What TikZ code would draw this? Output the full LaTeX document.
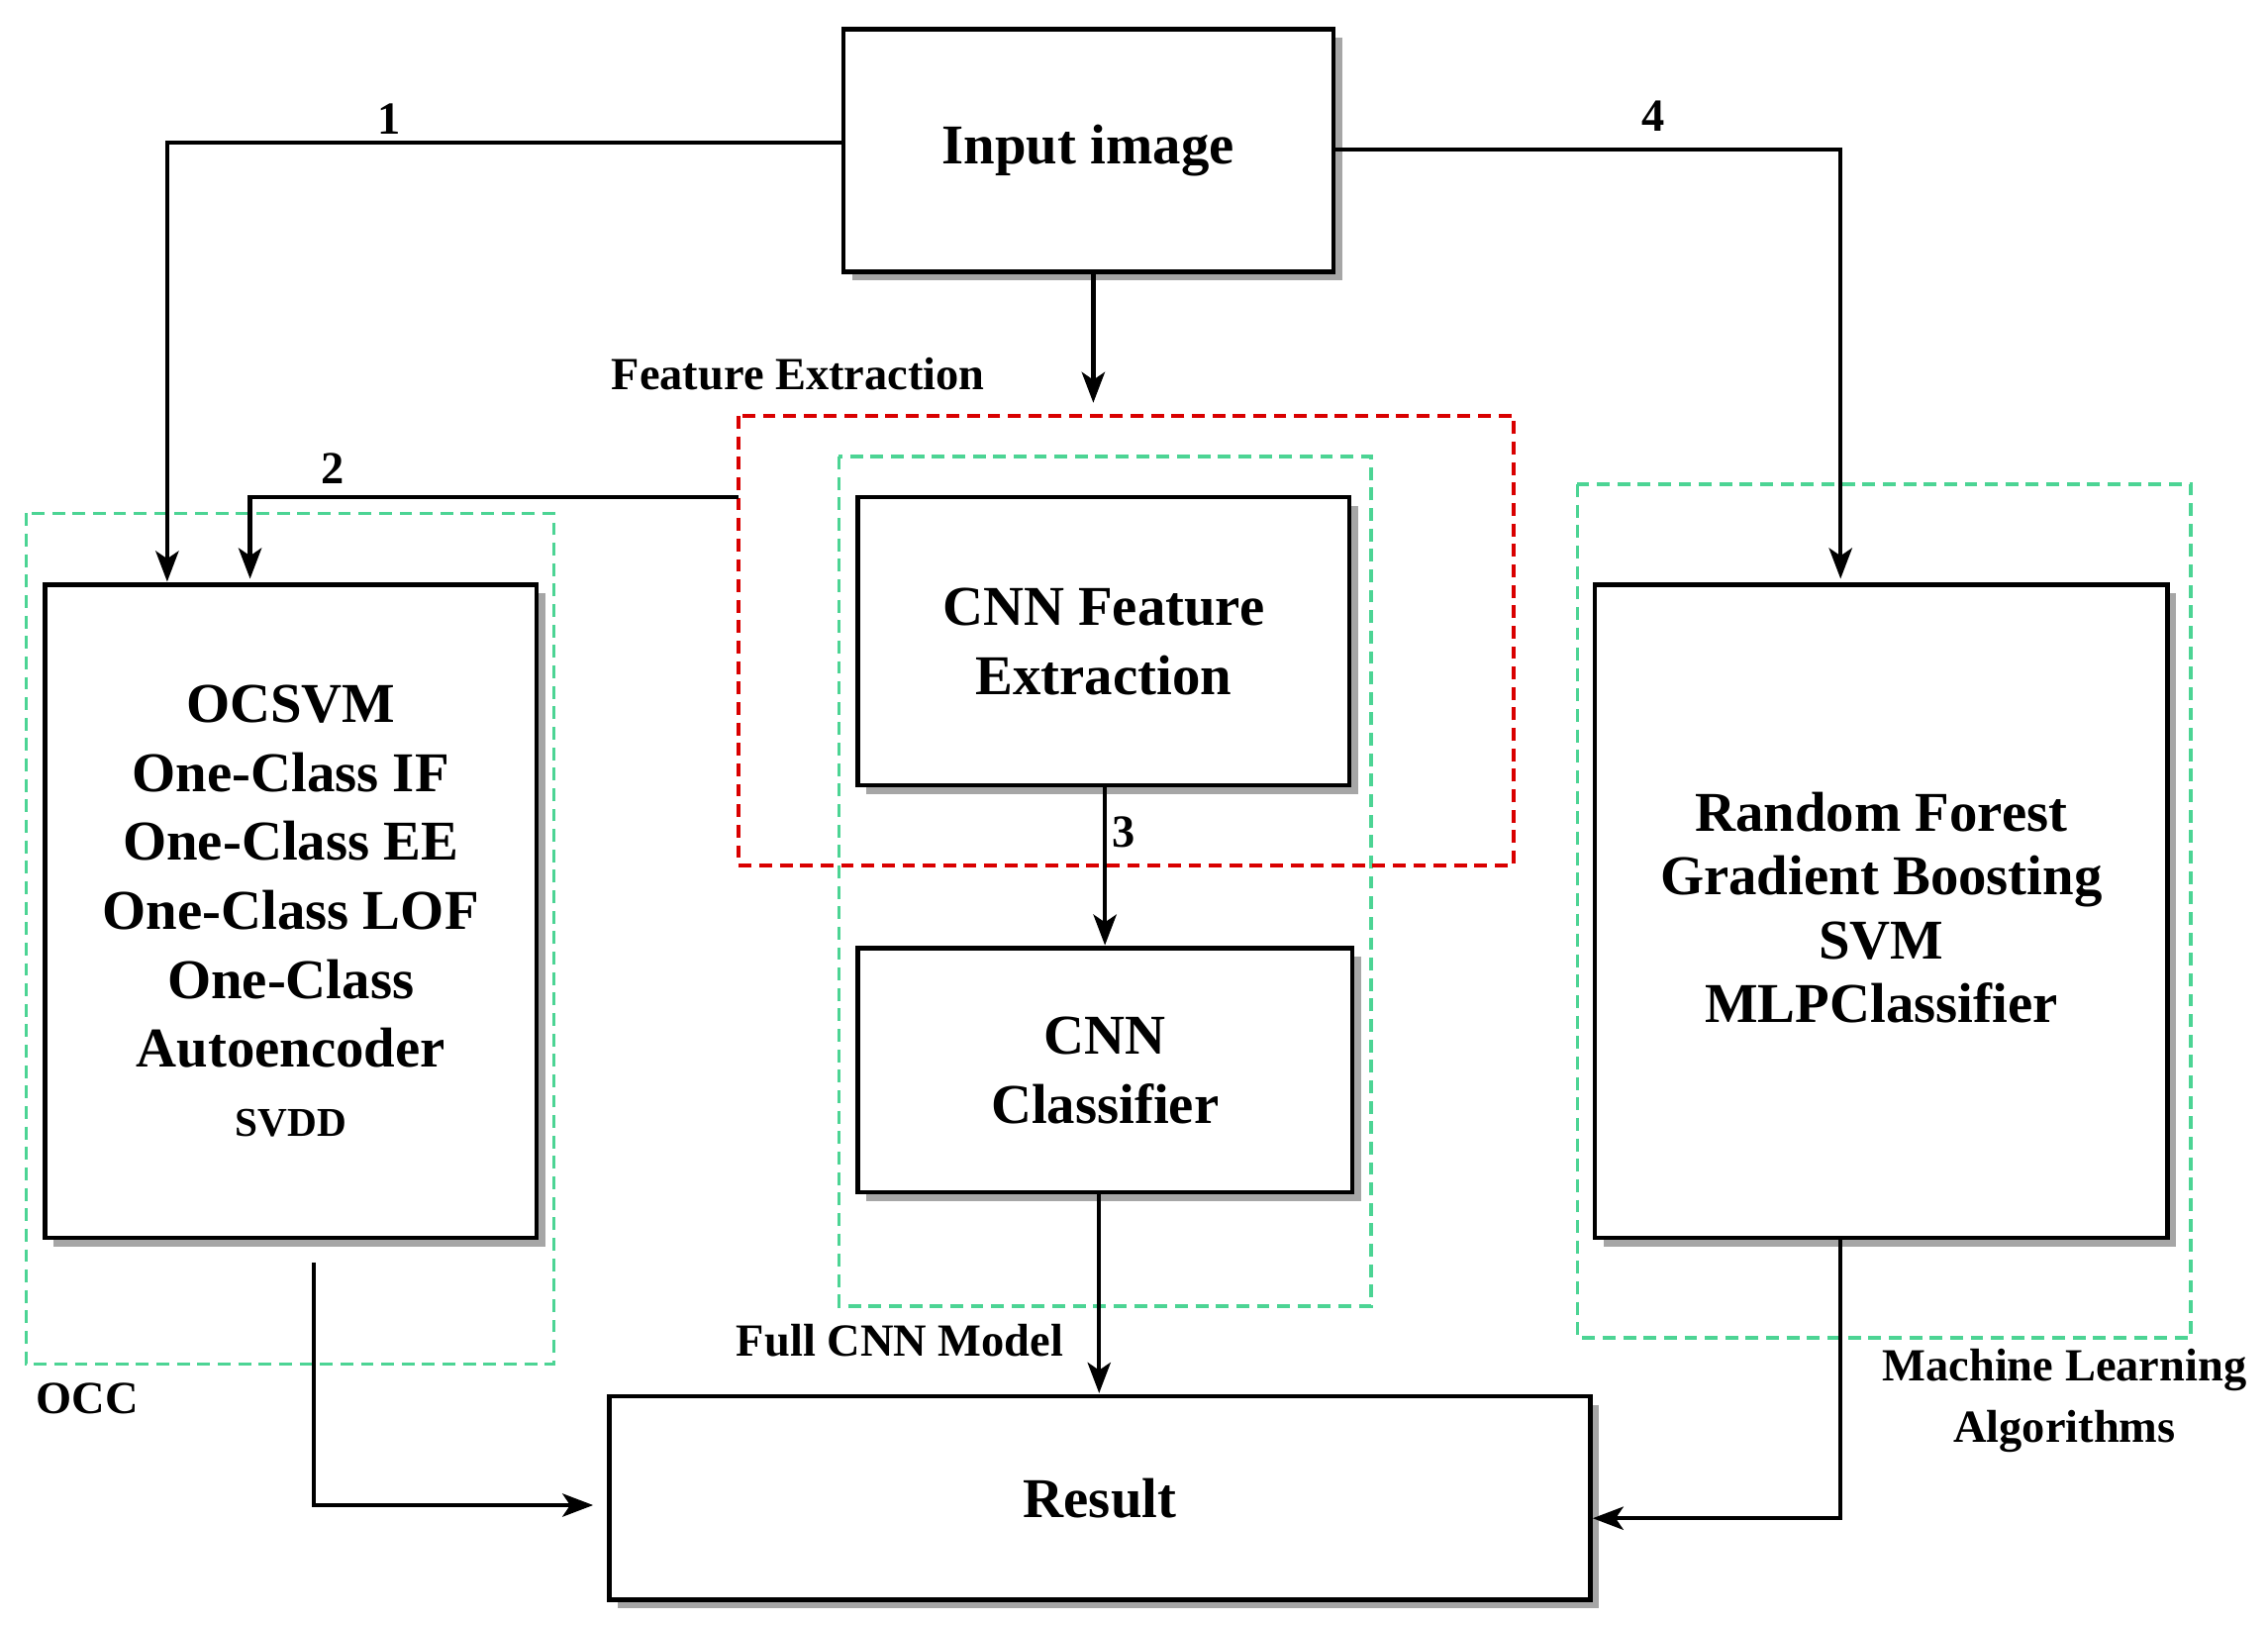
\documentclass[tikz,border=0pt]{standalone}
\usepackage{fontspec}
\setmainfont{Liberation Serif}
\usetikzlibrary{shadows,arrows.meta}
\begin{document}
\begin{tikzpicture}[x=0.02cm,y=-0.02cm,
  box/.style={draw,line width=1.7pt,fill=white,align=center,font=\bfseries\fontsize{22}{27}\selectfont,
    drop shadow={opacity=1,fill=gray!70,shadow xshift=0.12cm,shadow yshift=-0.12cm}},
  arr/.style={line width=1.7pt,-{Stealth[length=12pt,width=9pt,inset=3pt]}},
  grn/.style={draw=green!60!black!60!cyan!70,line width=1.4pt,dash pattern=on 5pt off 3pt},
  red/.style={draw=red!85!black,line width=1.4pt,dash pattern=on 5pt off 3pt},
  lab/.style={font=\bfseries\fontsize{18}{21}\selectfont,align=center}]
\useasboundingbox (0,0) rectangle (1560,1117);
% dashed groups
\draw[grn] (18,353) rectangle (381,938);
\draw[grn] (577,314) rectangle (943,898);
\draw[grn] (1085,333) rectangle (1507,920);
\draw[red] (508,286) rectangle (1041,595);
% boxes
\node[box,minimum width=337*0.02cm,minimum height=167*0.02cm] (in) at (748.5,103.5) {Input image};
\node[box,minimum width=338*0.02cm,minimum height=449*0.02cm] (occ) at (200,626.5) {OCSVM\\One-Class IF\\One-Class EE\\One-Class LOF\\One-Class\\Autoencoder\\{\fontsize{16}{22}\selectfont SVDD}};
\node[box,minimum width=338*0.02cm,minimum height=198*0.02cm] (fe) at (759,441) {CNN Feature\\Extraction};
\node[box,minimum width=340*0.02cm,minimum height=168*0.02cm] (cl) at (760,736) {CNN\\Classifier};
\node[box,minimum width=394*0.02cm,minimum height=449*0.02cm] (rf) at (1294,626.5) {};
\node[align=center,font=\bfseries\fontsize{22}{25}\selectfont] at (1294,624) {Random Forest\\Gradient Boosting\\SVM\\MLPClassifier};
\node[box,minimum width=675*0.02cm,minimum height=140*0.02cm] (res) at (756.5,1030) {Result};
% connectors
\coordinate (a1) at (115,98);
\draw[arr] (in.west|-a1) -- (a1) -- (115,400);
\node[lab,fill=white,inner sep=1pt] at (268,82) {1};
\coordinate (a2) at (508,342);
\draw[arr] (a2) -- (172,342) -- (172,398);
\node[lab] at (229,322) {2};
\coordinate (a4) at (1266,103);
\draw[arr] (in.east|-a4) -- (a4) -- (1266,398);
\node[lab] at (1137,80) {4};
\draw[arr] (in.south-|752,0) -- (752,277);
\draw[arr] (fe.south-|760,0) -- (760,650);
\node[lab] at (773,572) {3};
\draw[arr] (cl.south-|756,0) -- (756,958);
\draw[arr] (216,868) -- (216,1035) -- (408,1035);
\draw[arr] (rf.south-|1266,0) -- (1266,1044) -- (res.east|-1266,1044);
% labels
\node[lab] at (549,257) {Feature Extraction};
\node[lab] at (60,962) {OCC};
\node[lab] at (619,922) {Full CNN Model};
\node[lab,font=\bfseries\fontsize{18}{24}\selectfont] at (1420,963) {Machine Learning\\Algorithms};
\end{tikzpicture}
\end{document}
